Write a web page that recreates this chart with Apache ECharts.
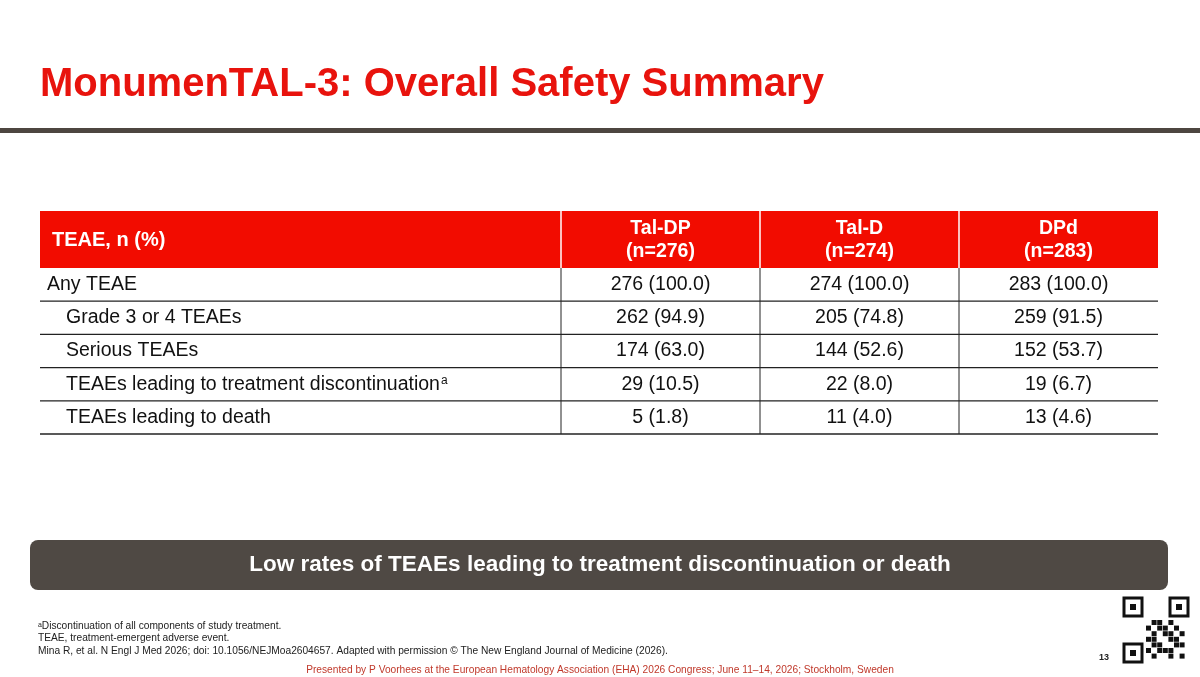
<!DOCTYPE html>
<html><head><meta charset="utf-8">
<script src="https://cdn.jsdelivr.net/npm/echarts@6/dist/echarts.min.js"></script>
<style>html,body{margin:0;padding:0;background:#fff}#c{width:1200px;height:677px}</style>
</head><body><div id="c"></div>
<script>
const title = "MonumenTAL-3: Overall Safety Summary";
const headerLabel = "TEAE, n (%)";
const columns = ["Tal-DP\n(n=276)", "Tal-D\n(n=274)", "DPd\n(n=283)"];
const rowLabels = ["Any TEAE", "Grade 3 or 4 TEAEs", "Serious TEAEs", "TEAEs leading to treatment discontinuation", "TEAEs leading to death"];
const rowIndent = [0, 1, 1, 1, 1];
const rowSup = ["", "", "", "a", ""];
const talDP = ["276 (100.0)", "262 (94.9)", "174 (63.0)", "29 (10.5)", "5 (1.8)"];
const talD = ["274 (100.0)", "205 (74.8)", "144 (52.6)", "22 (8.0)", "11 (4.0)"];
const dpd = ["283 (100.0)", "259 (91.5)", "152 (53.7)", "19 (6.7)", "13 (4.6)"];
const banner = "Low rates of TEAEs leading to treatment discontinuation or death";
const footnotes = ["ᵃDiscontinuation of all components of study treatment.", "TEAE, treatment-emergent adverse event.", "Mina R, et al. N Engl J Med 2026; doi: 10.1056/NEJMoa2604657. Adapted with permission © The New England Journal of Medicine (2026)."];
const presented = "Presented by P Voorhees at the European Hematology Association (EHA) 2026 Congress; June 11–14, 2026; Stockholm, Sweden";
const pageNum = "13";

const FF = "Liberation Sans";
const RED = "#f20c00";
const X0 = 40, X1 = 1158, colX = [561, 760, 959, 1158];
const HY0 = 211, HY1 = 268, RH = 33.2;
function T(x,y,text,size,opts){
  return {type:'text', x:x, y:y, style:Object.assign({text:text, fontFamily:FF, fontSize:size, fill:"#111", verticalAlign:'middle'}, opts||{})};
}
const g = [];
g.push(T(40,85,title,40,{fontWeight:'bold', fill:"#e8130d"}));
g.push({type:'rect', shape:{x:0,y:128,width:1200,height:5}, style:{fill:"#4d4640"}});
g.push({type:'rect', shape:{x:X0,y:HY0,width:X1-X0,height:HY1-HY0}, style:{fill:RED}});
g.push(T(52,(HY0+HY1)/2+1,headerLabel,20,{fontWeight:'bold', fill:'#fff'}));
columns.forEach((c,i)=>{
  const cx=(colX[i]+colX[i+1])/2;
  g.push(T(cx,(HY0+HY1)/2+1,c,19.5,{fontWeight:'bold', fill:'#fff', align:'center', lineHeight:23}));
  g.push({type:'line', shape:{x1:colX[i],y1:HY0,x2:colX[i],y2:HY1}, style:{stroke:"#fff", lineWidth:1.5}});
});
const vals=[talDP,talD,dpd];
rowLabels.forEach((r,j)=>{
  const y0=HY1+j*RH, ym=y0+RH/2;
  g.push({type:'text', x:rowIndent[j]?66:47, y:ym, style:{
    text:'{n|'+r+'}'+(rowSup[j]?'{s|'+rowSup[j]+'}':''), verticalAlign:'middle',
    rich:{n:{fontFamily:FF,fontSize:19.5,fill:'#111'}, s:{fontFamily:FF,fontSize:12,fill:'#111',verticalAlign:'top',padding:[0,0,8,1]}}}});
  vals.forEach((v,i)=>{
    g.push(T((colX[i]+colX[i+1])/2, ym, v[j], 19.5, {align:'center'}));
    g.push({type:'line', shape:{x1:colX[i],y1:y0,x2:colX[i],y2:y0+RH}, style:{stroke:"#222", lineWidth:1}});
  });
  g.push({type:'line', shape:{x1:X0,y1:y0+RH,x2:X1,y2:y0+RH}, style:{stroke:"#222", lineWidth:1.3}});
});
g.push({type:'rect', shape:{x:30,y:540,width:1138,height:50,r:8}, style:{fill:"#4f4944"}});
g.push(T(600,565,banner,22.5,{fontWeight:'bold', fill:'#fff', align:'center'}));
footnotes.forEach((f,i)=>g.push(T(38,626+i*12.5,f,10.2,{fill:'#222'})));
g.push(T(600,670,presented,10.2,{fill:'#c0392b', align:'center'}));
g.push(T(1104,658,pageNum,9,{fontWeight:'bold', fill:'#222', align:'center'}));
// QR-like decoration
const qx=1124,qy=598;
[[0,0],[46,0],[0,46]].forEach(([a,b])=>{
  g.push({type:'rect', shape:{x:qx+a,y:qy+b,width:18,height:18}, style:{fill:'none',stroke:'#111',lineWidth:3}});
  g.push({type:'rect', shape:{x:qx+a+6,y:qy+b+6,width:6,height:6}, style:{fill:'#111'}});
});
const qrBits=["0110100","1011010","0101101","1100110","0110011","1011100","0100101"];
qrBits.forEach((row,r)=>row.split('').forEach((b,c)=>{ if(b==='1'){
  g.push({type:'rect', shape:{x:qx+22+c*5.6,y:qy+22+r*5.6,width:5,height:5}, style:{fill:'#111'}});
}}));
const chart=echarts.init(document.getElementById('c'));
chart.setOption({backgroundColor:'#fff', graphic:g});
</script></body></html>
